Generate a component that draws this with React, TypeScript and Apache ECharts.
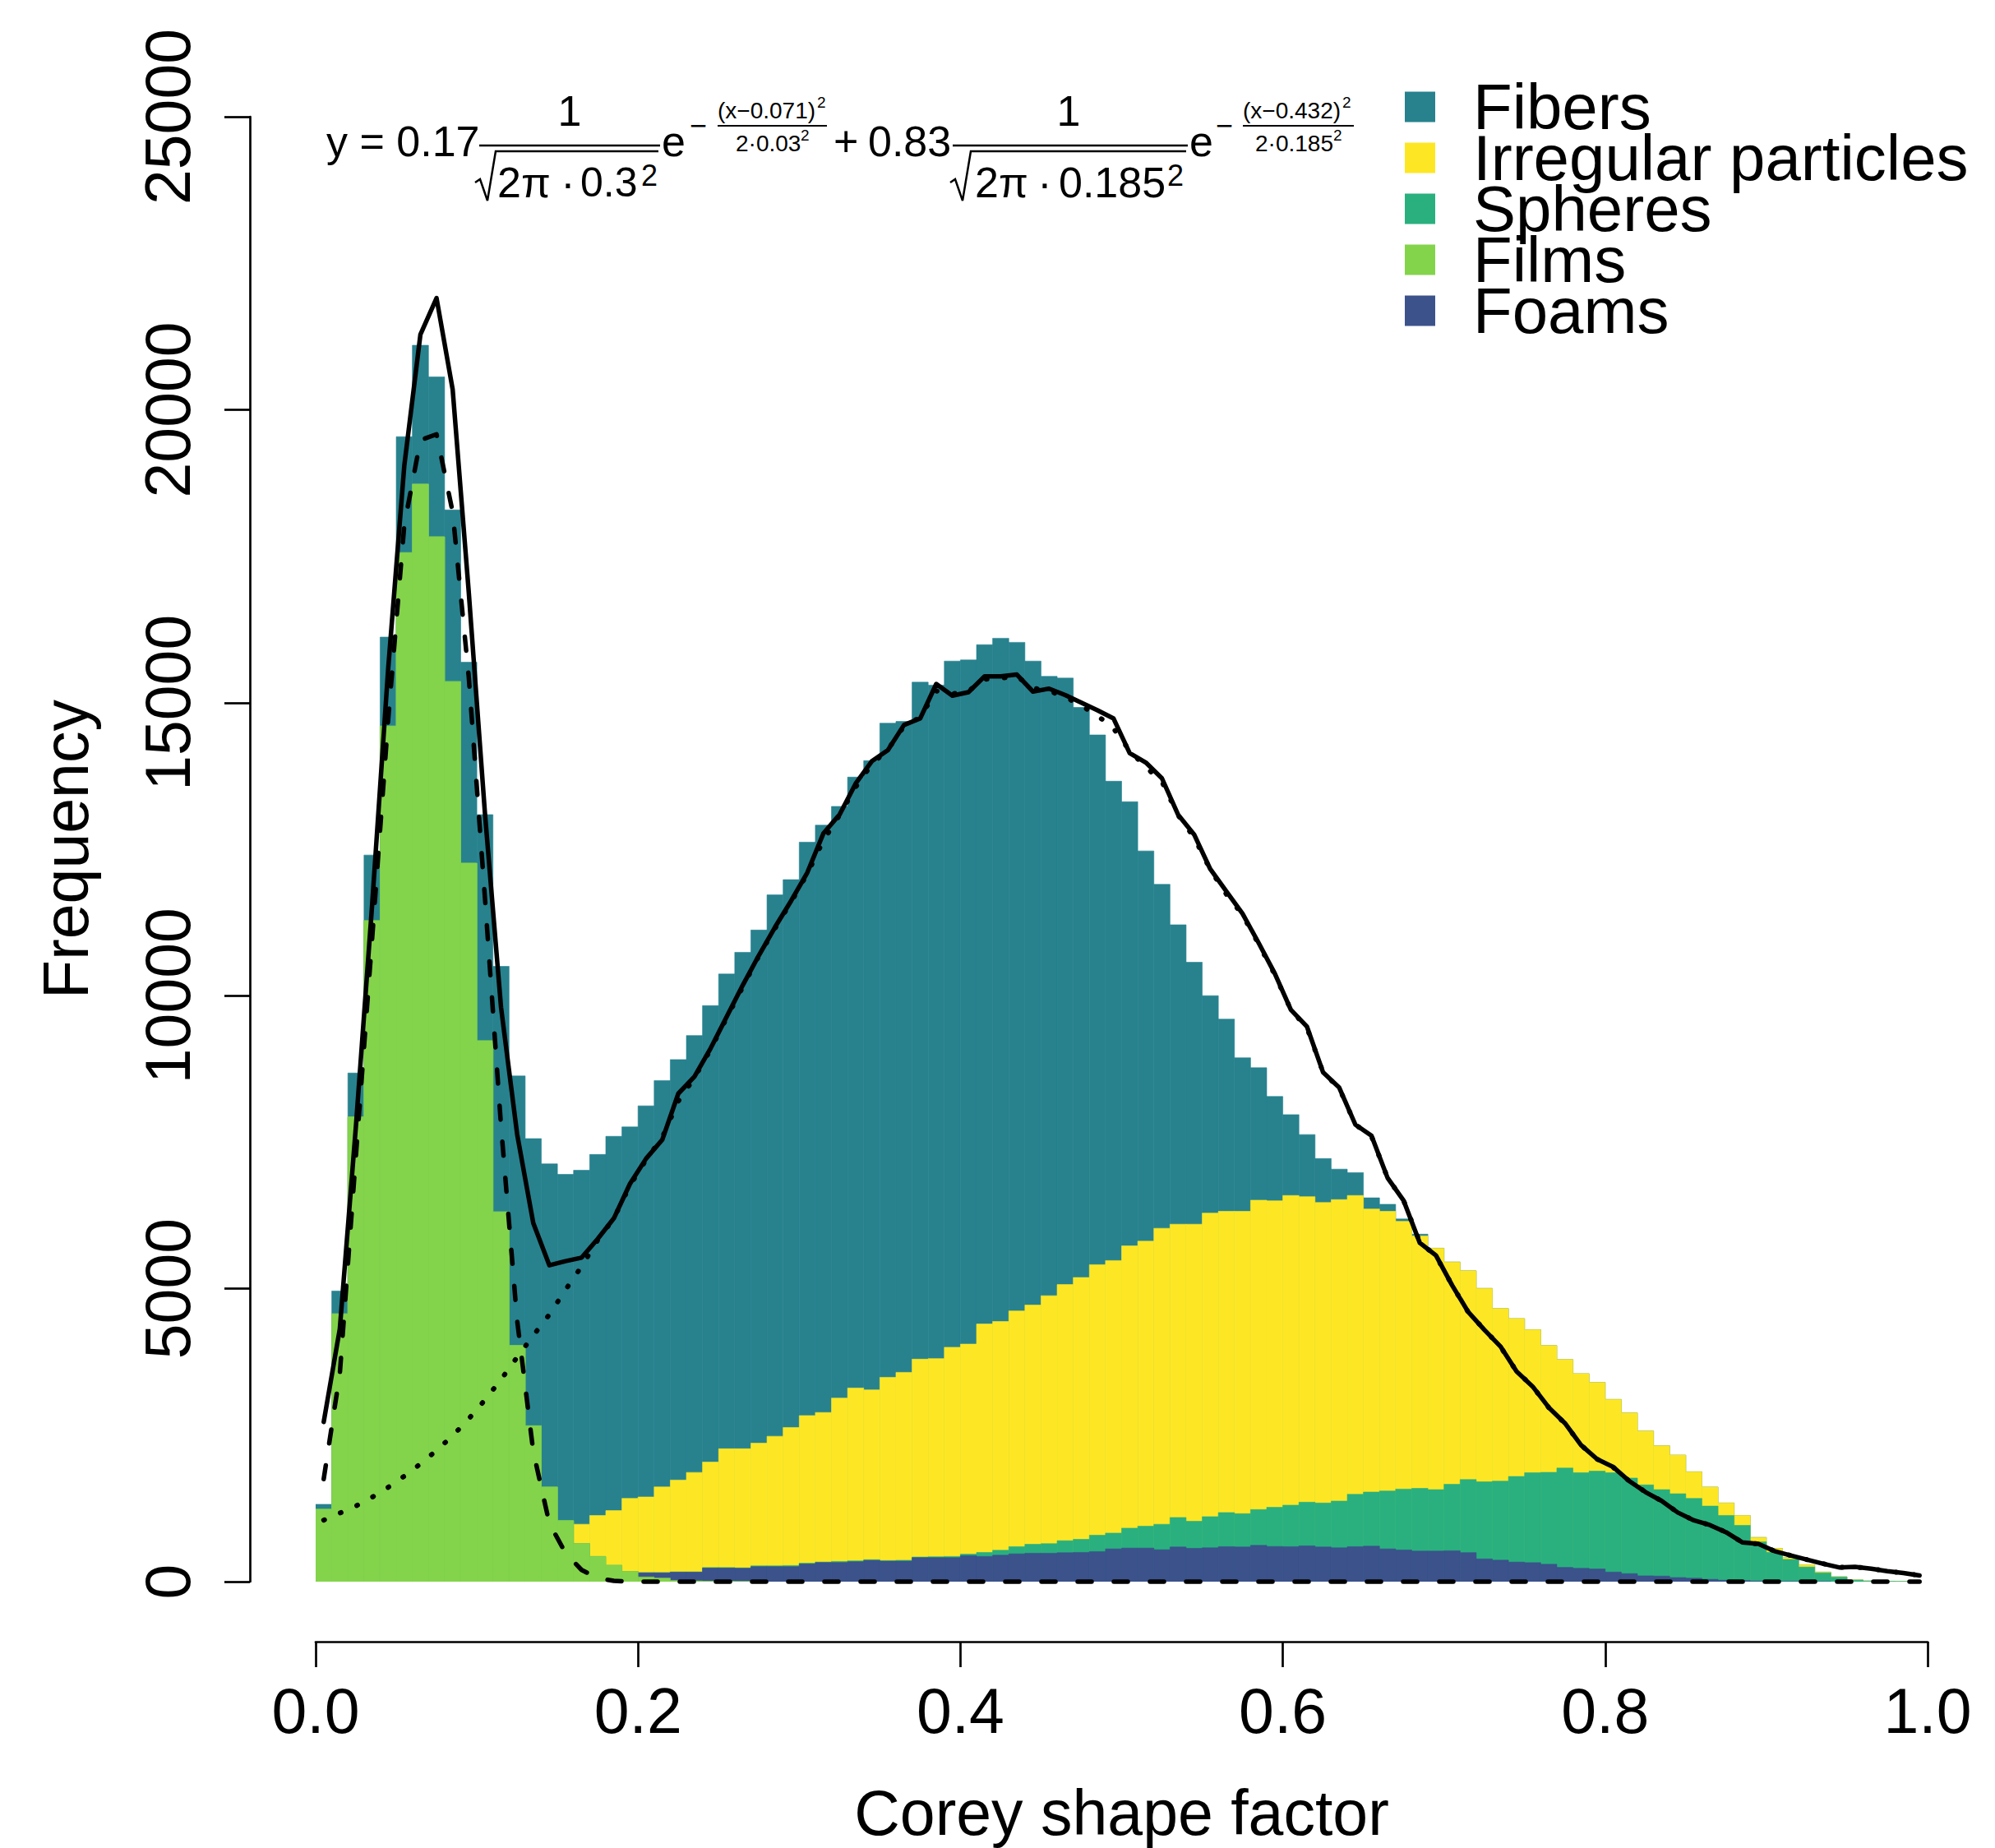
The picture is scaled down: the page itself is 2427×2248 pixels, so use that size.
import React, { useEffect, useRef } from 'react';
import * as echarts from 'echarts';

const W = 2427;
const H = 2248;
const FONT = 'Liberation Sans';

// Histogram bins (breaks every 0.01 from 0 to 1)
const binWidth = 0.01;
const binCenters = Array.from({ length: 100 }, (_, i) => +(i * binWidth + binWidth / 2).toFixed(3));

// Visible top of each coloured layer in every bin (stacked: Films, Foams, Spheres, Irregular, Fibers)
const fibersTop = [
  1320, 4960, 8680, 12400, 16120, 19540, 21100, 20560, 18290, 15690,
  13090, 10500, 8630, 7560, 7130, 6950, 7020, 7290, 7600, 7760,
  8120, 8550, 8910, 9320, 9830, 10370, 10740, 11120, 11720, 11980,
  12620, 12910, 13230, 13730, 14010, 14650, 14680, 15350, 15300, 15710,
  15730, 15990, 16100, 16030, 15710, 15450, 15420, 14920, 14450, 13660,
  13310, 12470, 11900, 11210, 10570, 10000, 9600, 8940, 8770, 8280,
  7970, 7630, 7220, 7040, 6980, 6550, 6440, 6190, 5930, 5690,
  5455, 5305, 5005, 4660, 4490, 4300, 4030, 3790, 3550, 3400,
  3110, 2880, 2570, 2320, 2160, 1875, 1615, 1342, 1128, 755,
  567, 410, 288, 164, 84, 30, 12, 5, 2, 0,
];
const irregularTop = [
  1235, 4570, 7930, 11280, 14600, 17560, 18730, 17830, 15360, 12260,
  9230, 6310, 4030, 2660, 1615, 1040, 980, 1128, 1212, 1421,
  1445, 1617, 1734, 1864, 2041, 2268, 2268, 2363, 2481, 2631,
  2834, 2887, 3133, 3305, 3273, 3487, 3572, 3797, 3807, 4000,
  4054, 4397, 4440, 4620, 4720, 4880, 5070, 5190, 5410, 5480,
  5730, 5810, 6030, 6100, 6100, 6290, 6320, 6320, 6510, 6500,
  6590, 6570, 6470, 6520, 6590, 6360, 6320, 6150, 5900, 5690,
  5455, 5305, 5005, 4660, 4490, 4300, 4030, 3790, 3550, 3400,
  3110, 2880, 2570, 2320, 2160, 1875, 1615, 1342, 1128, 755,
  567, 410, 288, 164, 84, 30, 12, 5, 2, 0,
];
const spheresTop = [
  1235, 4570, 7930, 11280, 14600, 17560, 18730, 17830, 15360, 12260,
  9230, 6310, 4030, 2660, 1615, 1040, 650, 430, 280, 175,
  155, 155, 165, 165, 240, 240, 235, 270, 270, 275,
  315, 335, 345, 355, 375, 360, 365, 420, 425, 430,
  470, 499, 536, 597, 638, 648, 699, 722, 792, 829,
  913, 946, 979, 1095, 1030, 1109, 1179, 1160, 1230, 1268,
  1305, 1356, 1342, 1375, 1491, 1529, 1548, 1580, 1592, 1570,
  1661, 1742, 1704, 1715, 1795, 1859, 1865, 1939, 1859, 1886,
  1859, 1768, 1651, 1570, 1500, 1420, 1290, 1130, 960, 680,
  500, 380, 250, 150, 78, 25, 9, 4, 2, 0,
];
const foamsTop = [
  0, 0, 0, 0, 0, 0, 0, 0, 0, 0,
  0, 0, 0, 0, 0, 0, 0, 0, 0, 0,
  150, 150, 163, 163, 233, 233, 228, 256, 256, 256,
  303, 326, 326, 340, 363, 350, 350, 410, 410, 410,
  445, 430, 452, 475, 485, 485, 494, 499, 513, 559,
  573, 573, 545, 592, 569, 578, 597, 592, 620, 601,
  597, 611, 592, 578, 597, 606, 559, 541, 522, 522,
  527, 495, 388, 367, 334, 324, 297, 243, 228, 217,
  164, 137, 99, 95, 70, 60, 40, 25, 18, 10,
  5, 3, 2, 1, 0, 0, 0, 0, 0, 0,
];
const filmsTop = [
  1235, 4570, 7930, 11280, 14600, 17560, 18730, 17830, 15360, 12260,
  9230, 6310, 4030, 2660, 1615, 1040, 650, 430, 280, 175,
  80, 61, 20, 12, 8, 5, 3, 0, 0, 0,
  0, 0, 0, 0, 0, 0, 0, 0, 0, 0,
  0, 0, 0, 0, 0, 0, 0, 0, 0, 0,
  0, 0, 0, 0, 0, 0, 0, 0, 0, 0,
  0, 0, 0, 0, 0, 0, 0, 0, 0, 0,
  0, 0, 0, 0, 0, 0, 0, 0, 0, 0,
  0, 0, 0, 0, 0, 0, 0, 0, 0, 0,
  0, 0, 0, 0, 0, 0, 0, 0, 0, 0,
];

// Curves (values at bin centres)
const totalCurve = [
  2726, 4316, 7781, 11536, 15581, 19046, 21284, 21905, 20346, 16880,
  13124, 9803, 7637, 6120, 5399, 5470, 5530, 5850, 6200, 6790,
  7220, 7540, 8330, 8620, 9100, 9640, 10180, 10690, 11170, 11620,
  12100, 12770, 13090, 13620, 14000, 14190, 14620, 14730, 15320, 15120,
  15180, 15450, 15450, 15480, 15190, 15240, 15130, 15000, 14870, 14730,
  14140, 13980, 13710, 13090, 12750, 12160, 11780, 11400, 10900, 10380,
  9760, 9470, 8690, 8430, 7800, 7610, 6890, 6500, 5781, 5567,
  5059, 4604, 4299, 4015, 3587, 3330, 2972, 2705, 2330, 2090,
  1956, 1715, 1528, 1378, 1180, 1046, 966, 843, 671, 644,
  521, 447, 377, 308, 243, 252, 222, 179, 147, 105,
];
const firstComponent = [
  1750, 3550, 7277, 10959, 14714, 18035, 19480, 19581, 18252, 15435,
  11680, 7781, 4460, 2221, 994, 489, 200, 60, 15, 0,
  0, 0, 0, 0, 0, 0, 0, 0, 0, 0,
  0, 0, 0, 0, 0, 0, 0, 0, 0, 0,
  0, 0, 0, 0, 0, 0, 0, 0, 0, 0,
  0, 0, 0, 0, 0, 0, 0, 0, 0, 0,
  0, 0, 0, 0, 0, 0, 0, 0, 0, 0,
  0, 0, 0, 0, 0, 0, 0, 0, 0, 0,
  0, 0, 0, 0, 0, 0, 0, 0, 0, 0,
  0, 0, 0, 0, 0, 0, 0, 0, 0, 0,
];
const secondComponent = [
  1050, 1170, 1290, 1440, 1610, 1800, 2010, 2240, 2490, 2780,
  3100, 3450, 3830, 4200, 4560, 4980, 5380, 5830, 6200, 6760,
  7200, 7580, 8200, 8600, 9080, 9620, 10150, 10680, 11150, 11600,
  12080, 12650, 13080, 13560, 13950, 14200, 14600, 14750, 15200, 15150,
  15200, 15400, 15420, 15450, 15250, 15200, 15100, 14950, 14780, 14560,
  14180, 13900, 13650, 13080, 12700, 12150, 11730, 11380, 10880, 10360,
  9760, 9450, 8690, 8420, 7800, 7600, 6890, 6500, 5790, 5560,
  5060, 4600, 4300, 4010, 3590, 3330, 2970, 2700, 2330, 2090,
  1950, 1715, 1530, 1378, 1180, 1046, 966, 843, 671, 644,
  521, 447, 377, 308, 243, 252, 222, 179, 147, 105,
];

const xTicks = [0, 0.2, 0.4, 0.6, 0.8, 1.0];
const yTicks = [0, 5000, 10000, 15000, 20000, 25000];

const layers = [
  { name: 'Fibers', color: '#27828E', data: fibersTop },
  { name: 'Irregular particles', color: '#FDE725', data: irregularTop },
  { name: 'Spheres', color: '#2AB07F', data: spheresTop },
  { name: 'Foams', color: '#3B528B', data: foamsTop },
  { name: 'Films', color: '#84D44B', data: filmsTop },
];
const legendOrder = ['Fibers', 'Irregular particles', 'Spheres', 'Films', 'Foams'];

function barSeries(layer: { name: string; color: string; data: number[] }, z: number) {
  return {
    type: 'custom',
    name: layer.name,
    coordinateSystem: 'cartesian2d',
    itemStyle: { color: layer.color },
    z,
    clip: true,
    encode: { x: 0, y: 1 },
    data: binCenters.map((c, i) => [c, layer.data[i]]),
    renderItem: (_params: any, api: any) => {
      const c = api.value(0);
      const h = api.value(1);
      if (!h) return null;
      const p0 = api.coord([c - binWidth / 2, 0]);
      const p1 = api.coord([c + binWidth / 2, h]);
      return {
        type: 'rect',
        shape: { x: p0[0], y: p1[1], width: p1[0] - p0[0], height: p0[1] - p1[1] },
        style: { fill: layer.color, stroke: layer.color, lineWidth: 0.6 },
      };
    },
  };
}

function lineSeries(name: string, values: number[], type: any, width: number, z: number) {
  return {
    type: 'line',
    name,
    data: binCenters.map((c, i) => [c, values[i]]),
    showSymbol: false,
    symbol: 'none',
    clip: false,
    z,
    lineStyle: { color: '#000', width, type, cap: 'round', join: 'round' },
  };
}

function txt(text: string, x: number, y: number, size: number, align = 'left') {
  return {
    type: 'text',
    x,
    y,
    z: 10,
    style: { text, fill: '#000', fontSize: size, fontFamily: FONT, align, verticalAlign: 'middle' },
  };
}
function hline(x1: number, x2: number, y: number, w = 2.5) {
  return { type: 'line', z: 10, shape: { x1, y1: y, x2, y2: y }, style: { stroke: '#000', lineWidth: w } };
}
function radical(pts: number[][]) {
  return { type: 'polyline', z: 10, shape: { points: pts }, style: { stroke: '#000', lineWidth: 2.5, fill: null } };
}

const formula = [
  txt('y = 0.17', 397, 172, 52),
  hline(583, 803, 177),
  txt('1', 693, 135, 52, 'center'),
  radical([[578, 222], [584, 218], [593, 244], [603, 184], [801, 184]]),
  txt('2π', 605, 222, 52),
  txt('·', 691, 222, 52, 'center'),
  txt('0.3', 706, 222, 50),
  txt('2', 780, 213, 36),
  txt('e', 805, 172, 52),
  txt('−', 839, 152, 36),
  hline(873, 1006, 153, 2),
  txt('(x−0.071)', 873, 134, 28),
  txt('2', 994, 124, 19),
  txt('2·0.03', 895, 174, 28),
  txt('2', 974, 164, 19),
  txt('+', 1014, 172, 52),
  txt('0.83', 1056, 172, 52),
  hline(1159, 1445, 177),
  txt('1', 1300, 135, 52, 'center'),
  radical([[1156, 222], [1162, 218], [1171, 244], [1181, 184], [1443, 184]]),
  txt('2π', 1186, 222, 52),
  txt('·', 1271, 222, 52, 'center'),
  txt('0.185', 1288, 222, 52),
  txt('2', 1420, 213, 36),
  txt('e', 1447, 172, 52),
  txt('−', 1479, 152, 36),
  hline(1512, 1647, 153, 2),
  txt('(x−0.432)', 1512, 134, 28),
  txt('2', 1633, 124, 19),
  txt('2·0.185', 1527, 174, 28),
  txt('2', 1622, 164, 19),
];

const axisColor = '#000';

const option: any = {
  animation: false,
  backgroundColor: '#fff',
  textStyle: { fontFamily: FONT },
  grid: { left: 384, right: 82, top: 142, bottom: 318, containLabel: false },
  legend: {
    data: legendOrder,
    orient: 'vertical',
    left: 1709,
    top: 91,
    padding: 0,
    itemGap: -16,
    itemWidth: 37,
    itemHeight: 37,
    icon: 'rect',
    selectedMode: false,
    textStyle: { fontSize: 78, color: '#000', fontFamily: FONT, padding: [0, 0, 0, 41] },
  },
  xAxis: {
    type: 'value',
    min: xTicks[0],
    max: xTicks[xTicks.length - 1],
    interval: 0.2,
    offset: 73,
    splitLine: { show: false },
    axisLine: { show: true, onZero: false, lineStyle: { color: axisColor, width: 2.7 } },
    axisTick: { show: true, length: 31, lineStyle: { color: axisColor, width: 2.7 } },
    axisLabel: {
      fontSize: 77,
      color: '#000',
      margin: 45,
      fontFamily: FONT,
      formatter: (v: number) => v.toFixed(1),
    },
    name: 'Corey shape factor',
    nameLocation: 'middle',
    nameGap: 169,
    nameTextStyle: { fontSize: 77, color: '#000', fontFamily: FONT },
  },
  yAxis: {
    type: 'value',
    min: yTicks[0],
    max: yTicks[yTicks.length - 1],
    interval: 5000,
    offset: 80,
    splitLine: { show: false },
    axisLine: { show: true, onZero: false, lineStyle: { color: axisColor, width: 2.7 } },
    axisTick: { show: true, length: 31, lineStyle: { color: axisColor, width: 2.7 } },
    axisLabel: {
      fontSize: 77,
      color: '#000',
      rotate: 90,
      margin: 62,
      fontFamily: FONT,
      formatter: (v: number) => String(v),
    },
    name: 'Frequency',
    nameLocation: 'middle',
    nameGap: 186,
    nameTextStyle: { fontSize: 77, color: '#000', fontFamily: FONT },
  },
  graphic: formula,
  series: [
    ...layers.map((l, i) => barSeries(l, 2 + i * 0.01)),
    lineSeries('second', secondComponent, [1, 21], 6, 5),
    lineSeries('first', firstComponent, [17, 27], 5.5, 6),
    lineSeries('total', totalCurve, 'solid', 5.5, 7),
  ],
};

export default function App() {
  const ref = useRef<HTMLDivElement>(null);
  useEffect(() => {
    if (!ref.current) return;
    const chart = echarts.init(ref.current, null, { renderer: 'svg', width: W, height: H });
    chart.setOption(option);
    return () => chart.dispose();
  }, []);
  return (
    <div
      ref={ref}
      style={{ position: 'absolute', left: 0, top: 0, width: W, height: H, background: '#fff' }}
    />
  );
}
